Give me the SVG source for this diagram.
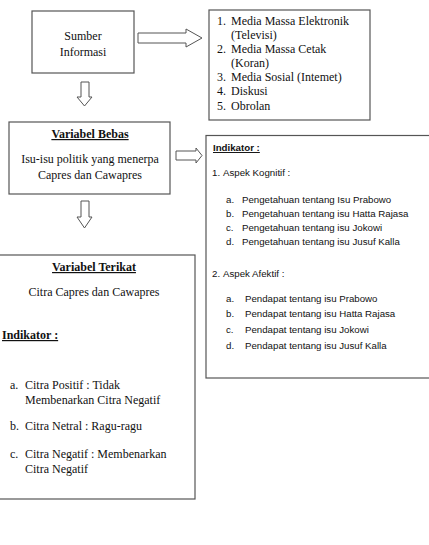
<svg xmlns="http://www.w3.org/2000/svg" width="429" height="545" viewBox="0 0 429 545">
<style>
.box{fill:#fff;stroke:#555;stroke-width:1.2}
.arr{fill:#fff;stroke:#555;stroke-width:1}
.s{font-family:"Liberation Serif","Times New Roman",serif;font-size:12px;fill:#111}
.c{text-anchor:middle}
.b{font-weight:bold;text-decoration:underline}
.k{font-family:"Liberation Sans",Arial,sans-serif;font-size:9.7px;fill:#111}
</style>
<rect width="429" height="545" fill="#fff"/>
<g id="connectors">
<polygon class="arr" points="138,33 186,33 186,29 202,38 186,47 186,43 138,43"/>
<polygon class="arr" points="81,82 89,82 89,97 92,97 84.5,106 77,97 81,97"/>
<polygon class="arr" points="176,151 196,151 196,148 202,155.5 196,163 196,160 176,160"/>
<polygon class="arr" points="81,201 89,201 89,217 92,217 84.5,228 77,217 81,217"/>
</g>
<g id="sumber">
<rect class="box" x="32" y="11" width="102" height="62"/>
<text class="s c" x="83" y="40">Sumber</text>
<text class="s c" x="83" y="56">Informasi</text>
</g>
<g id="media">
<rect class="box" x="209" y="10" width="161" height="110"/>
<text class="s" x="217" y="25">1.</text><text class="s" x="231" y="25">Media Massa Elektronik</text>
<text class="s" x="231" y="39">(Televisi)</text>
<text class="s" x="217" y="53">2.</text><text class="s" x="231" y="53">Media Massa Cetak</text>
<text class="s" x="231" y="67">(Koran)</text>
<text class="s" x="217" y="81">3.</text><text class="s" x="231" y="81">Media Sosial (Intemet)</text>
<text class="s" x="217" y="95">4.</text><text class="s" x="231" y="95">Diskusi</text>
<text class="s" x="217" y="110">5.</text><text class="s" x="231" y="110">Obrolan</text>
</g>
<g id="bebas">
<rect class="box" x="9" y="122" width="161" height="72"/>
<text class="s c b" x="90" y="138">Variabel Bebas</text>
<text class="s c" x="90" y="163">Isu-isu politik yang menerpa</text>
<text class="s c" x="90" y="179">Capres dan Cawapres</text>
</g>
<g id="indikator">
<rect class="box" x="206" y="135.5" width="230" height="242.5"/>
<text class="k b" x="213" y="151">Indikator :</text>
<text class="k" x="212" y="176">1.</text><text class="k" x="223" y="176">Aspek Kognitif :</text>
<text class="k" x="226" y="203">a.</text><text class="k" x="242" y="203">Pengetahuan tentang Isu Prabowo</text>
<text class="k" x="226" y="217">b.</text><text class="k" x="242" y="217">Pengetahuan tentang isu Hatta Rajasa</text>
<text class="k" x="226" y="231">c.</text><text class="k" x="242" y="231">Pengetahuan tentang isu Jokowi</text>
<text class="k" x="226" y="245">d.</text><text class="k" x="242" y="245">Pengetahuan tentang isu Jusuf Kalla</text>
<text class="k" x="212" y="277">2.</text><text class="k" x="223" y="277">Aspek Afektif :</text>
<text class="k" x="226" y="302">a.</text><text class="k" x="245" y="302">Pendapat tentang isu Prabowo</text>
<text class="k" x="226" y="317">b.</text><text class="k" x="245" y="317">Pendapat tentang isu Hatta Rajasa</text>
<text class="k" x="226" y="333">c.</text><text class="k" x="245" y="333">Pendapat tentang isu Jokowi</text>
<text class="k" x="226" y="349">d.</text><text class="k" x="245" y="349">Pendapat tentang isu Jusuf Kalla</text>
</g>
<g id="terikat">
<rect class="box" x="-2" y="255" width="197" height="244"/>
<text class="s c b" x="94" y="271">Variabel Terikat</text>
<text class="s c" x="94" y="296">Citra Capres dan Cawapres</text>
<text class="s b" x="2" y="339">Indikator :</text>
<text class="s" x="10" y="389">a.</text><text class="s" x="25" y="389">Citra Positif : Tidak</text>
<text class="s" x="25" y="404">Membenarkan Citra Negatif</text>
<text class="s" x="10" y="430">b.</text><text class="s" x="25" y="430">Citra Netral : Ragu-ragu</text>
<text class="s" x="10" y="458">c.</text><text class="s" x="25" y="458">Citra Negatif : Membenarkan</text>
<text class="s" x="25" y="473">Citra Negatif</text>
</g>
</svg>
